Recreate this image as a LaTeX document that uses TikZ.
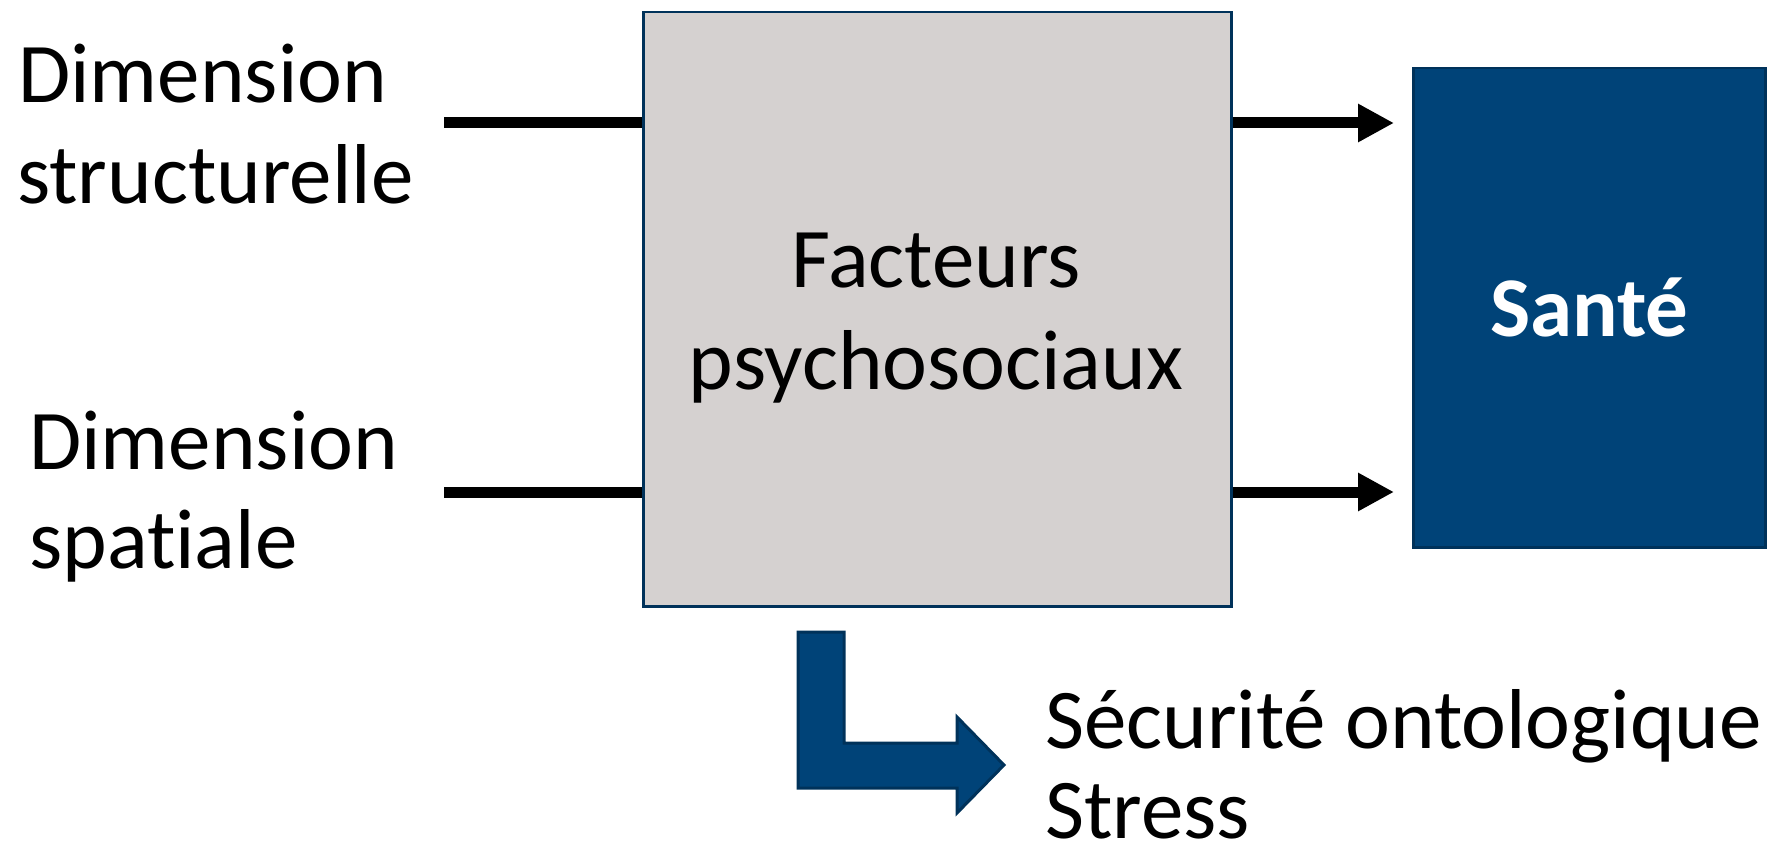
\documentclass[tikz,border=0pt]{standalone}
\usepackage{fontspec}
\setmainfont{Carlito}[Ligatures={NoCommon}]
\usetikzlibrary{arrows.meta}
\definecolor{boxgray}{RGB}{213,209,208}
\definecolor{navy}{RGB}{0,67,120}
\definecolor{navyline}{RGB}{0,50,90}
\tikzset{
  lbl/.style={anchor=base west, inner sep=0pt, font=\fontsize{85}{100}\selectfont},
  inline/.style={line width=11pt, black},
  outarrow/.style={line width=11pt, black, -{Triangle[length=36pt,width=36pt]}},
}
\begin{document}
\begin{tikzpicture}[x=1pt,y=-1pt]
\useasboundingbox (0,0) rectangle (1786,848);
% central box
\node[draw=navyline, line width=2.5pt, fill=boxgray, minimum width=588pt, minimum height=594pt, inner sep=0pt, anchor=north west] (box) at (642,11) {};
\node[align=center, inner sep=0pt, font=\fontsize{85}{102}\selectfont] (fact) at (936,318) {Facteurs\\psychosociaux};
% Santé box
\node[draw=navyline, line width=2.5pt, fill=navy, minimum width=352pt, minimum height=479pt, inner sep=0pt, anchor=north west] (sante) at (1412,67) {};
\node[text=white, inner sep=0pt, font=\fontsize{85}{100}\selectfont\bfseries, anchor=base] (santet) at (sante.center |- 0,336) {Santé};
% left labels
\node[lbl] (d1a) at (18,103) {Dimension};
\node[lbl] (d1b) at (17,203) {structurelle};
\node[lbl] (d2a) at (29,469) {Dimension};
\node[lbl] (d2b) at (29,568) {spatiale};
% input lines
\coordinate (in1) at (444,123);
\coordinate (in2) at (444,492);
\draw[inline] (in1) -- (in1 -| box.west);
\draw[inline] (in2) -- (in2 -| box.west);
% output arrows
\coordinate (o1) at (1394,123);
\coordinate (o2) at (1394,492);
\draw[outarrow] (o1 -| box.east) -- (o1);
\draw[outarrow] (o2 -| box.east) -- (o2);
% bent arrow
\coordinate (bent) at (798,632);
\filldraw[fill=navy, draw=navyline, line width=3pt, line join=miter]
  (bent) -- (844,632) -- (844,743) -- (957,743) -- (957,717) -- (1004,765)
  -- (957,813) -- (957,788) -- (798,788) -- cycle;
% bottom labels
\node[lbl] (sec) at (1045,748) {Sécurité ontologique};
\node[lbl] (str) at (1045,838) {Stress};
\end{tikzpicture}
\end{document}
